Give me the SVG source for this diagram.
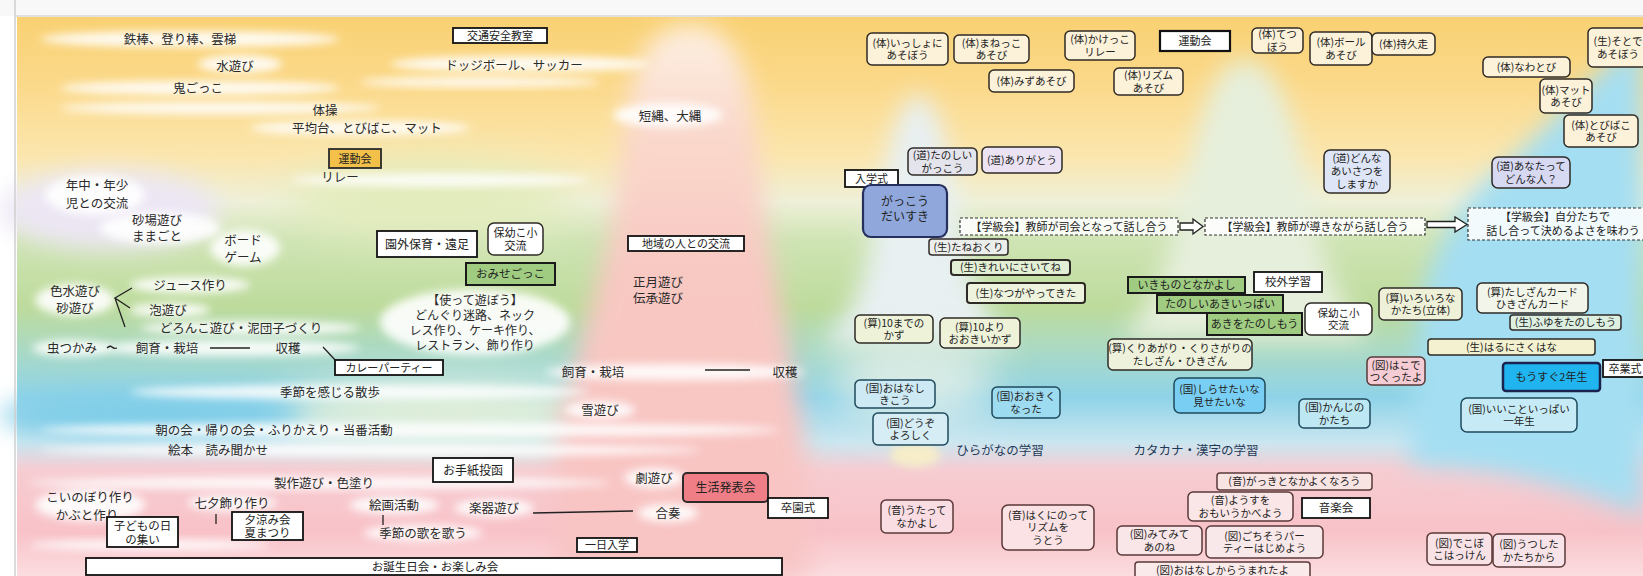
<svg xmlns="http://www.w3.org/2000/svg" width="1643" height="576" viewBox="0 0 1643 576">
<defs>
<style>
.tx{font-family:"Noto Sans CJK JP","Noto Sans CJK SC",sans-serif;font-size:12.5px;fill:#2a2a2a;text-anchor:middle}
.bx{font-family:"Noto Sans CJK JP","Noto Sans CJK SC",sans-serif;font-size:10.5px;fill:#222;text-anchor:middle}
.sq{fill:#fff;stroke:#111;stroke-width:1.8}
.rb{stroke:#2e2a26;stroke-width:1.5}
.cream{fill:#fcf1d9}
.gr{fill:#9fcc80;stroke:#1a1a1a;stroke-width:2}
.dash{fill:#fff;fill-opacity:.85;stroke:#333;stroke-width:1.2;stroke-dasharray:3 2}
.ln{stroke:#222;stroke-width:1.3;fill:none}
.cl{fill:#fff;fill-opacity:.9;filter:url(#b5)}
.bl{stroke:#1f4a5c}
.pk{stroke:#5a3838}
</style>
<linearGradient id="bgv" x1="0" y1="0" x2="0" y2="1">
<stop offset="0" stop-color="#f9d173"/>
<stop offset="0.12" stop-color="#fbd98a"/>
<stop offset="0.25" stop-color="#fbe6ae"/>
<stop offset="0.33" stop-color="#eef0d8"/>
<stop offset="0.40" stop-color="#cfe4b4"/>
<stop offset="0.52" stop-color="#bddb9c"/>
<stop offset="0.60" stop-color="#a9d9c6"/>
<stop offset="0.68" stop-color="#8fd3e8"/>
<stop offset="0.76" stop-color="#c9e6f0"/>
<stop offset="0.81" stop-color="#f6cdd2"/>
<stop offset="0.92" stop-color="#f8c2c8"/>
<stop offset="1" stop-color="#fbdde0"/>
</linearGradient>
<linearGradient id="bell" x1="0" y1="0" x2="0" y2="1">
<stop offset="0" stop-color="#fdf0e2"/>
<stop offset="0.2" stop-color="#fad8cc"/>
<stop offset="0.45" stop-color="#f8c8c2"/>
<stop offset="1" stop-color="#f8c4c4"/>
</linearGradient>
<filter id="b5" x="-50%" y="-50%" width="200%" height="200%"><feGaussianBlur stdDeviation="4"/></filter>
<filter id="b12" x="-50%" y="-50%" width="200%" height="200%"><feGaussianBlur stdDeviation="12"/></filter>
<filter id="b20" x="-50%" y="-50%" width="200%" height="200%"><feGaussianBlur stdDeviation="20"/></filter>
</defs>

<g id="background">
<rect x="0" y="0" width="1643" height="576" fill="#fff"/>
<rect x="17" y="17" width="1626" height="559" fill="url(#bgv)"/>
<ellipse cx="110" cy="210" rx="110" ry="40" fill="#ece6f4" filter="url(#b12)"/>
<ellipse cx="430" cy="200" rx="140" ry="40" fill="#e2ecbc" filter="url(#b20)"/>
<ellipse cx="450" cy="410" rx="170" ry="32" fill="#e4f0d8" filter="url(#b20)"/>
<ellipse cx="150" cy="415" rx="150" ry="22" fill="#7fcde8" filter="url(#b12)"/>
<path d="M690 25 C640 25 628 80 622 150 C615 250 580 330 555 440 L555 576 L810 576 L805 440 C790 330 765 250 758 150 C752 80 740 25 690 25 Z" fill="url(#bell)" filter="url(#b12)"/>
<path d="M918 95 C895 95 885 170 870 250 C860 300 840 330 820 345 L1015 345 C995 330 975 300 965 250 C952 170 942 95 918 95 Z" fill="#e8f0f2" filter="url(#b12)"/>
<ellipse cx="915" cy="380" rx="80" ry="45" fill="#e6f0e8" opacity="0.8" filter="url(#b20)"/>
<path d="M1243 60 C1205 60 1195 150 1175 230 C1160 290 1140 320 1120 340 L1370 340 C1340 300 1320 260 1310 200 C1295 120 1280 60 1243 60 Z" fill="#e6efdc" filter="url(#b12)"/>
<path d="M1643 40 C1600 60 1560 120 1500 170 C1460 200 1430 260 1420 300 L1410 465 C1500 465 1580 490 1643 515 Z" fill="#a4def2" filter="url(#b12)"/>
<ellipse cx="915" cy="455" rx="25" ry="12" fill="#f7edc8" filter="url(#b5)"/>
<rect x="0" y="0" width="1643" height="16" fill="#f8f8f8"/>
<line x1="15" y1="16" x2="1643" y2="16" stroke="#d8d8d8" stroke-width="1.5"/>
<line x1="15" y1="0" x2="15" y2="576" stroke="#cfcfcf" stroke-width="1.5"/>
</g>

<g id="clouds">
<ellipse class="cl" cx="190" cy="39" rx="150" ry="8"/>
<ellipse class="cl" cx="240" cy="64" rx="42" ry="9"/>
<ellipse class="cl" cx="520" cy="64" rx="130" ry="8"/>
<ellipse class="cl" cx="200" cy="88" rx="140" ry="7"/>
<ellipse class="cl" cx="220" cy="108" rx="160" ry="6"/>
<ellipse class="cl" cx="480" cy="82" rx="120" ry="5"/>
<ellipse class="cl" cx="360" cy="128" rx="110" ry="7"/>
<ellipse class="cl" cx="668" cy="115" rx="55" ry="12"/>
<ellipse class="cl" cx="440" cy="180" rx="150" ry="6"/>
<ellipse class="cl" cx="95" cy="195" rx="50" ry="20"/>
<ellipse class="cl" cx="160" cy="228" rx="60" ry="16"/>
<ellipse class="cl" cx="245" cy="248" rx="35" ry="18"/>
<ellipse class="cl" cx="190" cy="285" rx="60" ry="8"/>
<ellipse class="cl" cx="75" cy="300" rx="40" ry="16"/>
<ellipse class="cl" cx="170" cy="310" rx="40" ry="7"/>
<ellipse class="cl" cx="250" cy="328" rx="110" ry="7"/>
<ellipse class="cl" cx="72" cy="348" rx="40" ry="8"/>
<ellipse class="cl" cx="230" cy="348" rx="130" ry="8"/>
<ellipse class="cl" cx="475" cy="322" rx="95" ry="33"/>
<ellipse class="cl" cx="360" cy="392" rx="230" ry="7"/>
<ellipse class="cl" cx="675" cy="372" rx="130" ry="8"/>
<ellipse class="cl" cx="600" cy="410" rx="35" ry="9"/>
<ellipse class="cl" cx="410" cy="430" rx="370" ry="7"/>
<ellipse class="cl" cx="370" cy="450" rx="330" ry="6"/>
<ellipse class="cl" cx="654" cy="478" rx="30" ry="10"/>
<ellipse class="cl" cx="320" cy="483" rx="290" ry="6"/>
<ellipse class="cl" cx="90" cy="505" rx="55" ry="16"/>
<ellipse class="cl" cx="232" cy="503" rx="45" ry="8"/>
<ellipse class="cl" cx="394" cy="505" rx="45" ry="9"/>
<ellipse class="cl" cx="494" cy="508" rx="40" ry="9"/>
<ellipse class="cl" cx="668" cy="513" rx="30" ry="9"/>
<ellipse class="cl" cx="423" cy="533" rx="60" ry="8"/>
<ellipse class="cl" cx="150" cy="545" rx="120" ry="5"/>
</g>

<g id="connectors">
<path class="ln" d="M132 288 L115 298 L130 308 M115 298 L125 327"/>
<path class="ln" d="M107 348 q3 -3 5 -1 t5 1"/>
<line class="ln" x1="210" y1="348" x2="250" y2="348"/>
<line class="ln" x1="323" y1="347" x2="337" y2="362"/>
<line class="ln" x1="216" y1="514" x2="216" y2="524"/>
<line class="ln" x1="383" y1="515" x2="383" y2="525"/>
<line class="ln" x1="533" y1="513" x2="633" y2="511"/>
<line class="ln" x1="705" y1="370" x2="750" y2="370"/>
<polygon points="1180,223 1193,223 1193,219 1203,226.5 1193,234 1193,230 1180,230" fill="#fff" stroke="#222" stroke-width="1.3"/>
<polygon points="1427,221.5 1455,221.5 1455,217 1467,224.5 1455,232 1455,227.5 1427,227.5" fill="#fff" stroke="#222" stroke-width="1.3"/>
</g>

<g id="n-tetsubou"><text class="tx" x="180" y="43.5">鉄棒、登り棒、雲梯</text></g>
<g id="n-mizuasobi"><text class="tx" x="235" y="70.5">水遊び</text></g>
<g id="n-onigokko"><text class="tx" x="198" y="92.5">鬼ごっこ</text></g>
<g id="n-dodge"><text class="tx" x="514" y="69.5">ドッジボール、サッカー</text></g>
<g id="n-taisou"><text class="tx" x="325" y="114.5">体操</text></g>
<g id="n-heikindai"><text class="tx" x="367" y="132.5">平均台、とびばこ、マット</text></g>
<g id="n-relay"><text class="tx" x="340" y="181.5">リレー</text></g>
<g id="n-nawa"><text class="tx" x="670" y="120.5">短縄、大縄</text></g>
<g id="n-nenchu"><text class="tx" x="97" y="189.5">年中・年少<tspan x="97" dy="18">児との交流</tspan></text></g>
<g id="n-sunaba"><text class="tx" x="157" y="224.5">砂場遊び<tspan x="157" dy="16">ままごと</tspan></text></g>
<g id="n-board"><text class="tx" x="243" y="244.5">ボード<tspan x="243" dy="17">ゲーム</tspan></text></g>
<g id="n-juice"><text class="tx" x="190" y="289.5">ジュース作り</text></g>
<g id="n-iromizu"><text class="tx" x="75" y="295.5">色水遊び<tspan x="75" dy="17">砂遊び</tspan></text></g>
<g id="n-awa"><text class="tx" x="168" y="314.5">泡遊び</text></g>
<g id="n-doronko"><text class="tx" x="241" y="332.5">どろんこ遊び・泥団子づくり</text></g>
<g id="n-mushi"><text class="tx" x="72" y="352.5">虫つかみ</text></g>
<g id="n-shiiku1"><text class="tx" x="167" y="352.5">飼育・栽培</text></g>
<g id="n-shukaku1"><text class="tx" x="288" y="352.5">収穫</text></g>
<g id="n-tsukatte"><text class="tx" x="475" y="304.5" style="font-size:12px">【使って遊ぼう】<tspan x="475" dy="15">どんぐり迷路、ネック</tspan><tspan x="475" dy="15">レス作り、ケーキ作り、</tspan><tspan x="475" dy="15">レストラン、飾り作り</tspan></text></g>
<g id="n-shougatsu"><text class="tx" x="658" y="286.5">正月遊び<tspan x="658" dy="16">伝承遊び</tspan></text></g>
<g id="n-kisetsu"><text class="tx" x="330" y="396.5">季節を感じる散歩</text></g>
<g id="n-shiiku2"><text class="tx" x="593" y="376.5">飼育・栽培</text></g>
<g id="n-shukaku2"><text class="tx" x="785" y="376.5">収穫</text></g>
<g id="n-yuki"><text class="tx" x="600" y="414.5">雪遊び</text></g>
<g id="n-asanokai"><text class="tx" x="274" y="434.5">朝の会・帰りの会・ふりかえり・当番活動</text></g>
<g id="n-ehon"><text class="tx" x="218" y="454.5">絵本　読み聞かせ</text></g>
<g id="n-seisaku"><text class="tx" x="324" y="487.5">製作遊び・色塗り</text></g>
<g id="n-geki"><text class="tx" x="654" y="482.5">劇遊び</text></g>
<g id="n-koinobori"><text class="tx" x="90" y="501.5">こいのぼり作り<tspan x="87" dy="18">かぶと作り</tspan></text></g>
<g id="n-tanabata"><text class="tx" x="232" y="507.5">七夕飾り作り</text></g>
<g id="n-kaiga"><text class="tx" x="394" y="509.5">絵画活動</text></g>
<g id="n-uta"><text class="tx" x="423" y="537.5">季節の歌を歌う</text></g>
<g id="n-gakki"><text class="tx" x="494" y="512.5">楽器遊び</text></g>
<g id="n-gassou"><text class="tx" x="668" y="517.5">合奏</text></g>
<g id="n-hiragana"><text class="tx" x="1000" y="454.5" style="fill:#1e3a5a">ひらがなの学習</text></g>
<g id="n-katakana"><text class="tx" x="1196" y="454.5" style="fill:#1e3a5a">カタカナ・漢字の学習</text></g>

<g id="n-koutsuu"><rect class="sq" x="453" y="28" width="94" height="15"/><text class="bx" x="500" y="39.5" style="font-size:11px">交通安全教室</text></g>
<g id="n-undoukai1"><rect x="329" y="149" width="52" height="19" fill="#f3c04a" stroke="#2a2a2a" stroke-width="1.8"/><text class="bx" x="355" y="162.5" style="font-size:11px">運動会</text></g>
<g id="n-engai"><rect class="sq" x="377" y="231" width="100" height="26"/><text class="bx" x="427" y="248.5" style="font-size:12px">園外保育・遠足</text></g>
<g id="n-hoyou1"><rect class="rb" x="488" y="223" width="55" height="32" rx="6" fill="#fff"/><text class="bx" x="515.5" y="236.5" style="font-size:11px">保幼こ小<tspan x="515.5" dy="13">交流</tspan></text></g>
<g id="n-omise"><rect class="gr" x="466" y="263" width="89" height="22"/><text class="bx" x="510.5" y="278" style="font-size:11.5px">おみせごっこ</text></g>
<g id="n-chiiki"><rect class="sq" x="628" y="236" width="116" height="15"/><text class="bx" x="686" y="247.5" style="font-size:11px">地域の人との交流</text></g>
<g id="n-curry"><rect class="sq" x="335" y="360" width="108" height="15"/><text class="bx" x="389" y="371.5" style="font-size:11px">カレーパーティー</text></g>
<g id="n-tegami"><rect class="sq" x="433" y="458" width="80" height="24"/><text class="bx" x="473" y="474.5" style="font-size:12px">お手紙投函</text></g>
<g id="n-kodomo"><rect class="sq" x="107" y="517" width="71" height="30"/><text class="bx" x="142.5" y="529.5" style="font-size:11.5px">子どもの日<tspan x="142.5" dy="14">の集い</tspan></text></g>
<g id="n-yusuzumi"><rect class="sq" x="232" y="512" width="71" height="28"/><text class="bx" x="267.5" y="523.5" style="font-size:11.5px">夕涼み会<tspan x="267.5" dy="13.5">夏まつり</tspan></text></g>
<g id="n-tanjoubi"><rect class="sq" x="86" y="558" width="696" height="17"/><text class="bx" x="435" y="570.5" style="font-size:11.5px">お誕生日会・お楽しみ会</text></g>
<g id="n-happyoukai"><rect x="683" y="473" width="85" height="29" rx="4" fill="#f07e86" stroke="#2e2a2a" stroke-width="2"/><text class="bx" x="725.5" y="491.5" style="font-size:12px">生活発表会</text></g>
<g id="n-sotsuen"><rect class="sq" x="768" y="498" width="60" height="20"/><text class="bx" x="798" y="512" style="font-size:11.5px">卒園式</text></g>
<g id="n-ichinichi"><rect class="sq" x="577" y="538" width="60" height="14"/><text class="bx" x="607" y="549" style="font-size:11px">一日入学</text></g>

<g id="n-nyugaku"><rect class="sq" x="845" y="170" width="53" height="17"/><text class="bx" x="871.5" y="182.5" style="font-size:11px">入学式</text></g>
<g id="n-undoukai2"><rect class="sq" x="1160" y="31" width="70" height="20" style="stroke-width:2.2"/><text class="bx" x="1195" y="45" style="font-size:11px">運動会</text></g>
<g id="n-kougai"><rect class="sq" x="1254" y="272" width="68" height="20"/><text class="bx" x="1288" y="286" style="font-size:11.5px">校外学習</text></g>
<g id="n-ongakukai"><rect class="sq" x="1302" y="498" width="68" height="20"/><text class="bx" x="1336" y="512" style="font-size:11.5px">音楽会</text></g>
<g id="n-sotsugyou"><rect class="sq" x="1603" y="360" width="45" height="17"/><text class="bx" x="1625" y="372.5" style="font-size:11px">卒業式</text></g>

<g id="n-ikimono"><rect class="gr" x="1128" y="277" width="117" height="16"/><text class="bx" x="1186.5" y="289" style="font-size:11px">いきものとなかよし</text></g>
<g id="n-tanoshiiaki"><rect class="gr" x="1157" y="295" width="126" height="18"/><text class="bx" x="1220" y="308" style="font-size:11px">たのしいあきいっぱい</text></g>
<g id="n-akiwo"><rect class="gr" x="1207" y="313" width="95" height="22"/><text class="bx" x="1254.5" y="328" style="font-size:11px">あきをたのしもう</text></g>

<g id="n-issho"><rect class="rb cream" x="867" y="33" width="81" height="32" rx="5"/><text class="bx" x="907.5" y="46.5">(体)いっしょに<tspan x="907.5" dy="12.5">あそぼう</tspan></text></g>
<g id="n-manekko"><rect class="rb cream" x="954" y="35" width="75" height="28" rx="5"/><text class="bx" x="991.5" y="46.5">(体)まねっこ<tspan x="991.5" dy="12.5">あそび</tspan></text></g>
<g id="n-kakekko"><rect class="rb cream" x="1065" y="31" width="70" height="29" rx="5"/><text class="bx" x="1100" y="43">(体)かけっこ<tspan x="1100" dy="12.5">リレー</tspan></text></g>
<g id="n-mizu"><rect class="rb cream" x="989" y="70" width="85" height="22" rx="5"/><text class="bx" x="1031.5" y="84.7">(体)みずあそび</text></g>
<g id="n-rizumu"><rect class="rb cream" x="1114" y="68" width="69" height="27" rx="5"/><text class="bx" x="1148.5" y="79">(体)リズム<tspan x="1148.5" dy="12.5">あそび</tspan></text></g>
<g id="n-tetsu"><rect class="rb cream" x="1252" y="28" width="51" height="25" rx="5"/><text class="bx" x="1277.5" y="38">(体)てつ<tspan x="1277.5" dy="12.5">ぼう</tspan></text></g>
<g id="n-ball"><rect class="rb cream" x="1310" y="32" width="62" height="33" rx="5"/><text class="bx" x="1341" y="46">(体)ボール<tspan x="1341" dy="12.5">あそび</tspan></text></g>
<g id="n-jikyuu"><rect class="rb cream" x="1372" y="33" width="63" height="22" rx="5"/><text class="bx" x="1403.5" y="47.7">(体)持久走</text></g>
<g id="n-nawatobi"><rect class="rb cream" x="1483" y="57" width="87" height="20" rx="5"/><text class="bx" x="1526.5" y="70.7">(体)なわとび</text></g>
<g id="n-mat"><rect class="rb cream" x="1540" y="79" width="52" height="34" rx="5"/><text class="bx" x="1566" y="93.5">(体)マット<tspan x="1566" dy="12.5">あそび</tspan></text></g>
<g id="n-tobibako"><rect class="rb cream" x="1564" y="115" width="74" height="32" rx="5"/><text class="bx" x="1601" y="128.5">(体)とびばこ<tspan x="1601" dy="12.5">あそび</tspan></text></g>
<g id="n-sotode"><rect class="rb cream" x="1588" y="28" width="62" height="39" rx="5"/><text class="bx" x="1618" y="45">(生)そとで<tspan x="1618" dy="12.5">あそぼう</tspan></text></g>

<g id="n-tanoshiigakkou"><rect class="rb" x="908" y="148" width="69" height="27" rx="5" fill="#e4e4ec"/><text class="bx" x="942.5" y="159">(道)たのしい<tspan x="942.5" dy="12.5">がっこう</tspan></text></g>
<g id="n-arigatou"><rect class="rb" x="982" y="147" width="80" height="26" rx="5" fill="#ebe3f3"/><text class="bx" x="1022" y="163.7">(道)ありがとう</text></g>
<g id="n-donna"><rect class="rb" x="1324" y="150" width="66" height="43" rx="6" fill="#dde5f6"/><text class="bx" x="1357" y="162.2">(道)どんな<tspan x="1357" dy="13">あいさつを</tspan><tspan x="1357" dy="13">しますか</tspan></text></g>
<g id="n-anatatte"><rect class="rb" x="1492" y="157" width="78" height="31" rx="6" fill="#d7d9f2"/><text class="bx" x="1531" y="170">(道)あなたって<tspan x="1531" dy="12.5">どんな人？</tspan></text></g>

<g id="n-daisuki"><rect x="863" y="185" width="84" height="52" rx="8" fill="#8fa7db" stroke="#26305e" stroke-width="2.2"/><text class="bx" x="905" y="206" style="font-size:12px">がっこう<tspan x="905" dy="15">だいすき</tspan></text></g>

<g id="n-gakkyu1"><rect class="dash" x="960" y="218" width="218" height="17"/><text class="bx" x="1069" y="230.5" style="font-size:11px">【学級会】教師が司会となって話し合う</text></g>
<g id="n-gakkyu2"><rect class="dash" x="1205" y="218" width="220" height="17"/><text class="bx" x="1315" y="230.5" style="font-size:11px">【学級会】教師が導きながら話し合う</text></g>
<g id="n-gakkyu3"><rect class="dash" x="1468" y="208" width="180" height="32"/><text class="bx" x="1555" y="221" style="font-size:11px">【学級会】自分たちで<tspan x="1563" dy="13.5">話し合って決めるよさを味わう</tspan></text></g>

<g id="n-taneokuri"><rect class="rb" x="929" y="239" width="79" height="16" rx="3" fill="#eceeec"/><text class="bx" x="968.5" y="250.7">(生)たねおくり</text></g>
<g id="n-kirei"><rect class="rb" x="951" y="260" width="119" height="15" rx="3" fill="#e3efd4" style="stroke-width:2"/><text class="bx" x="1010.5" y="271.2">(生)きれいにさいてね</text></g>
<g id="n-natsu"><rect class="rb" x="967" y="283" width="118" height="20" rx="3" fill="#edf3dd" style="stroke-width:2"/><text class="bx" x="1026" y="296.7">(生)なつがやってきた</text></g>
<g id="n-10made"><rect class="rb" x="855" y="315" width="78" height="28" rx="5" fill="#eef2d8"/><text class="bx" x="894" y="326.5">(算)10までの<tspan x="894" dy="12.5">かず</tspan></text></g>
<g id="n-10yori"><rect class="rb" x="940" y="318" width="80" height="30" rx="5" fill="#eef2d8"/><text class="bx" x="980" y="330.5">(算)10より<tspan x="980" dy="12.5">おおきいかず</tspan></text></g>
<g id="n-kuriagari"><rect class="rb" x="1108" y="339" width="144" height="31" rx="5" fill="#eef2dc"/><text class="bx" x="1180" y="352">(算)くりあがり・くりさがりの<tspan x="1180" dy="12.5">たしざん・ひきざん</tspan></text></g>
<g id="n-hoyou2"><rect class="rb" x="1305" y="303" width="67" height="32" rx="6" fill="#fff"/><text class="bx" x="1338.5" y="316.5">保幼こ小<tspan x="1338.5" dy="12.5">交流</tspan></text></g>
<g id="n-ohanashi"><rect class="rb bl" x="855" y="380" width="80" height="28" rx="5" fill="#cde9f3"/><text class="bx" x="895" y="391.5">(国)おはなし<tspan x="895" dy="12.5">きこう</tspan></text></g>
<g id="n-douzo"><rect class="rb bl" x="873" y="413" width="75" height="32" rx="5" fill="#d6edf5"/><text class="bx" x="910.5" y="426.5">(国)どうぞ<tspan x="910.5" dy="12.5">よろしく</tspan></text></g>
<g id="n-ookiku"><rect class="rb bl" x="992" y="387" width="68" height="31" rx="5" fill="#9ddbf1"/><text class="bx" x="1026" y="400">(国)おおきく<tspan x="1026" dy="12.5">なった</tspan></text></g>
<g id="n-shirase"><rect class="rb bl" x="1174" y="378" width="91" height="35" rx="6" fill="#79cff3"/><text class="bx" x="1219.5" y="393">(国)しらせたいな<tspan x="1219.5" dy="12.5">見せたいな</tspan></text></g>
<g id="n-kanji"><rect class="rb bl" x="1299" y="399" width="71" height="29" rx="5" fill="#bde7f2"/><text class="bx" x="1334.5" y="411">(国)かんじの<tspan x="1334.5" dy="12.5">かたち</tspan></text></g>
<g id="n-hakode"><rect class="rb pk" x="1367" y="357" width="58" height="28" rx="5" fill="#f5ccd4"/><text class="bx" x="1396" y="368.5">(図)はこで<tspan x="1396" dy="12.5">つくったよ</tspan></text></g>
<g id="n-iroiro"><rect class="rb" x="1379" y="288" width="83" height="32" rx="5" fill="#eef0d8"/><text class="bx" x="1420.5" y="301.5">(算)いろいろな<tspan x="1420.5" dy="12.5">かたち(立体)</tspan></text></g>
<g id="n-card"><rect class="rb" x="1477" y="283" width="111" height="30" rx="5" fill="#f2f5ea"/><text class="bx" x="1532.5" y="295.5">(算)たしざんカード<tspan x="1532.5" dy="12.5">ひきざんカード</tspan></text></g>
<g id="n-fuyu"><rect class="rb" x="1510" y="315" width="111" height="15" rx="3" fill="#dcefe0"/><text class="bx" x="1565.5" y="326.2">(生)ふゆをたのしもう</text></g>
<g id="n-haru"><rect class="rb" x="1428" y="339" width="167" height="16" rx="3" fill="#f3f1cf"/><text class="bx" x="1511.5" y="350.7">(生)はるにさくはな</text></g>
<g id="n-mousugu"><rect x="1503" y="363" width="97" height="28" rx="3" fill="#20b5f0" stroke="#1b2450" stroke-width="2.5"/><text class="bx" x="1551.5" y="380.8" style="font-size:11px">もうすぐ2年生</text></g>
<g id="n-iikoto"><rect class="rb bl" x="1461" y="398" width="116" height="34" rx="6" fill="#c6ebf6"/><text class="bx" x="1519" y="412.5">(国)いいこといっぱい<tspan x="1519" dy="12.5">一年生</tspan></text></g>
<g id="n-utatte"><rect class="rb pk" x="881" y="500" width="72" height="33" rx="5" fill="#fadde2"/><text class="bx" x="917" y="514">(音)うたって<tspan x="917" dy="12.5">なかよし</tspan></text></g>
<g id="n-hakuni"><rect class="rb pk" x="1002" y="505" width="92" height="45" rx="6" fill="#fbe2e5"/><text class="bx" x="1048" y="518.7">(音)はくにのって<tspan x="1048" dy="12.5">リズムを</tspan><tspan x="1048" dy="12.5">うとう</tspan></text></g>
<g id="n-gakkito"><rect class="rb pk" x="1217" y="473" width="155" height="17" rx="3" fill="#f9e4e4"/><text class="bx" x="1294.5" y="485.2">(音)がっきとなかよくなろう</text></g>
<g id="n-yousu"><rect class="rb pk" x="1188" y="492" width="105" height="29" rx="5" fill="#fae6e6"/><text class="bx" x="1240.5" y="504">(音)ようすを<tspan x="1240.5" dy="12.5">おもいうかべよう</tspan></text></g>
<g id="n-mitemite"><rect class="rb pk" x="1117" y="526" width="85" height="29" rx="5" fill="#f9e6e8"/><text class="bx" x="1159.5" y="538">(図)みてみて<tspan x="1159.5" dy="12.5">あのね</tspan></text></g>
<g id="n-gochisou"><rect class="rb pk" x="1206" y="526" width="117" height="32" rx="5" fill="#f9e8ea"/><text class="bx" x="1264.5" y="539.5">(図)ごちそうパー<tspan x="1264.5" dy="12.5">ティーはじめよう</tspan></text></g>
<g id="n-ohanashikara"><rect class="rb pk" x="1135" y="562" width="175" height="16" rx="3" fill="#faeaea"/><text class="bx" x="1222.5" y="573.7">(図)おはなしからうまれたよ</text></g>
<g id="n-dekoboko"><rect class="rb pk" x="1427" y="533" width="65" height="32" rx="5" fill="#f8e2e6"/><text class="bx" x="1459.5" y="546.5">(図)でこぼ<tspan x="1459.5" dy="12.5">こはっけん</tspan></text></g>
<g id="n-utsushita"><rect class="rb pk" x="1493" y="534" width="72" height="33" rx="5" fill="#f8e4e8"/><text class="bx" x="1529" y="548">(図)うつした<tspan x="1529" dy="12.5">かたちから</tspan></text></g>
</svg>
